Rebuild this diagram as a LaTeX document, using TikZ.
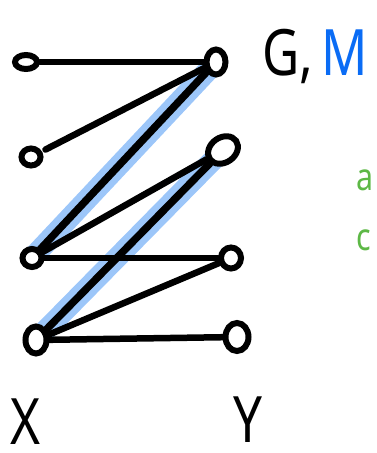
\documentclass[tikz,border=0pt]{standalone}
\usepackage{fontspec}
\setmainfont{Noto Sans}
\usetikzlibrary{positioning, shapes.geometric, backgrounds}
\definecolor{penblue}{HTML}{0A6CF5}
\definecolor{hiblue}{HTML}{9CC6F9}
\definecolor{pengreen}{HTML}{5DB846}

\begin{document}
\begin{tikzpicture}[x=1pt,y=-1pt,
    vtx/.style={draw,ellipse,line width=6pt,fill=white,inner sep=0pt},
    pen/.style={line width=6.5pt,line cap=round},
    hl/.style={hiblue,line width=21pt,line cap=round},
    lbl/.style={font=\fontsize{64}{64}\selectfont,inner sep=0pt,text depth=0pt,xscale=0.8,transform shape}]
  \useasboundingbox (0,0) rectangle (376,453);
  \clip (0,0) rectangle (376,453);
  % left side X
  \node[vtx,minimum width=22pt,minimum height=14pt] (x1) at (26,62) {};
  \node[vtx,minimum width=19pt,minimum height=17pt] (x2) at (31,157) {};
  \node[vtx,minimum width=19pt,minimum height=18pt] (x3) at (32,258) {};
  \node[vtx,minimum width=21pt,minimum height=27pt] (x4) at (36,340) {};
  % right side Y
  \node[vtx,minimum width=19pt,minimum height=25pt] (y1) at (216,62) {};
  \node[vtx,minimum width=32pt,minimum height=25pt,rotate=35] (y2) at (223,150) {};
  \node[vtx,minimum width=20pt,minimum height=21pt] (y3) at (231,258) {};
  \node[vtx,minimum width=23pt,minimum height=28pt] (y4) at (237,337) {};
  % labels
  \node[lbl,anchor=base west] (gm) at (262,75) {G,\hspace{10pt}\textcolor{penblue}{M}};
  \node[lbl,anchor=base] (xl) at (26,444) {X};
  \node[lbl,anchor=base] (yl) at (248,442) {Y};
  \node[lbl,text=pengreen,font=\fontsize{38}{38}\selectfont,anchor=base west] (g1) at (356,190) {a};
  \node[lbl,text=pengreen,font=\fontsize{38}{38}\selectfont,anchor=base west] (g2) at (356,250) {c};
  \begin{pgfonlayer}{background}
    \path (x3.center) edge[hl] (y1.center)
          (x4.center) edge[hl] (y2.center);
    \path (x1) edge[pen] (y1)
          (x2) edge[pen,shorten <=4pt] (y1)
          (x3) edge[pen,line width=7.5pt] (y1)
          (x3) edge[pen] (y2)
          (x3) edge[pen] (y3)
          (x4) edge[pen,line width=7.5pt] (y2)
          (x4) edge[pen] (y3)
          (x4) edge[pen] (y4);
  \end{pgfonlayer}
\end{tikzpicture}
\end{document}
